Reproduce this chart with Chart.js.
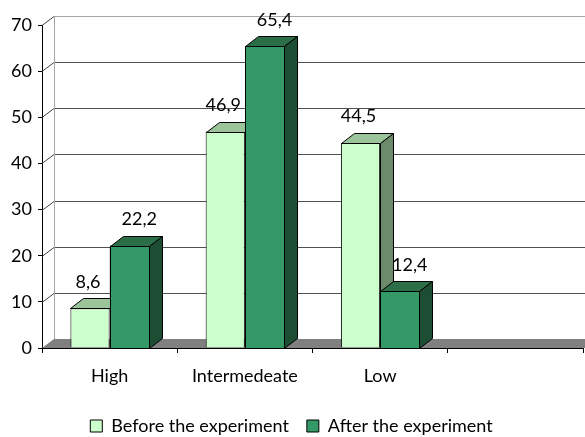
<!DOCTYPE html>
<html>
<head>
<meta charset="utf-8">
<script src="https://cdn.jsdelivr.net/npm/chart.js@4/dist/chart.umd.min.js"></script>
<style>
  html, body { margin: 0; padding: 0; background: #fff; overflow: hidden; }
  #wrap { width: 585px; height: 445px; }
</style>
</head>
<body>
<div id="wrap"><canvas id="levelChart" width="585" height="445"></canvas></div>
<script>
const categories = ['High', 'Intermedeate', 'Low', ''];
const beforeValues = [8.6, 46.9, 44.5];
const afterValues = [22.2, 65.4, 12.4];
const seriesNames = ['Before the experiment', 'After the experiment'];
const yTicks = [0, 10, 20, 30, 40, 50, 60, 70];

// face colours: front, top, side
const faceColors = [
  ['#ccffcc', '#9bc49b', '#6b8b6b'],
  ['#339966', '#2b6e47', '#1d4d33']
];
const DEPTH_X = 13, DEPTH_Y = -10;
const WALL_X = 12, WALL_Y = -9;

Chart.defaults.font.family = 'Lato, "Open Sans", sans-serif';
Chart.defaults.font.size = 18;
Chart.defaults.color = '#000';

const wallPlugin = {
  id: 'wall',
  beforeDatasetsDraw(chart) {
    const ctx = chart.ctx;
    const area = chart.chartArea;
    const y = chart.scales.y;
    const y0 = y.getPixelForValue(0);
    ctx.save();
    // floor
    ctx.fillStyle = '#808080';
    ctx.beginPath();
    ctx.moveTo(area.left, y0);
    ctx.lineTo(area.right + 4, y0);
    ctx.lineTo(area.right + 4 + WALL_X, y0 + WALL_Y);
    ctx.lineTo(area.left + WALL_X, y0 + WALL_Y);
    ctx.closePath();
    ctx.fill();
    // gridlines on back wall
    ctx.lineWidth = 1;
    yTicks.forEach(function (v) {
      if (v === 0) return;
      const py = Math.round(y.getPixelForValue(v)) + 0.5;
      ctx.strokeStyle = v === 70 ? '#a6a6a6' : '#505050';
      ctx.beginPath();
      ctx.moveTo(area.left + WALL_X, py + WALL_Y);
      ctx.lineTo(area.right + 20, py + WALL_Y);
      ctx.stroke();
      ctx.strokeStyle = '#404040';
      ctx.beginPath();
      ctx.moveTo(area.left, py);
      ctx.lineTo(area.left + WALL_X, py + WALL_Y);
      ctx.stroke();
    });
    // wall edge
    ctx.strokeStyle = '#a6a6a6';
    ctx.beginPath();
    ctx.moveTo(area.left + WALL_X + 0.5, y.getPixelForValue(70) + WALL_Y);
    ctx.lineTo(area.left + WALL_X + 0.5, y0 + WALL_Y);
    ctx.stroke();
    ctx.restore();
  }
};

function drawBox(ctx, bar, cols, withFront) {
  const left = Math.round(bar.x - bar.width / 2) + 0.5;
  const right = Math.round(bar.x + bar.width / 2) + 0.5;
  const top = Math.round(bar.y) + 0.5;
  const bottom = Math.round(bar.base) + 0.5;
  if (withFront) {
    ctx.fillStyle = cols[0];
    ctx.fillRect(left, top, right - left, bottom - top);
    ctx.strokeRect(left, top, right - left, bottom - top);
  }
  // top face
  ctx.fillStyle = cols[1];
  ctx.beginPath();
  ctx.moveTo(left, top);
  ctx.lineTo(left + DEPTH_X, top + DEPTH_Y);
  ctx.lineTo(right + DEPTH_X, top + DEPTH_Y);
  ctx.lineTo(right, top);
  ctx.closePath();
  ctx.fill();
  ctx.stroke();
  // side face
  ctx.fillStyle = cols[2];
  ctx.beginPath();
  ctx.moveTo(right, top);
  ctx.lineTo(right + DEPTH_X, top + DEPTH_Y);
  ctx.lineTo(right + DEPTH_X, bottom + DEPTH_Y);
  ctx.lineTo(right, bottom);
  ctx.closePath();
  ctx.fill();
  ctx.stroke();
}

const depthPlugin = {
  id: 'depth',
  afterDatasetsDraw(chart) {
    const ctx = chart.ctx;
    ctx.save();
    ctx.lineWidth = 1;
    ctx.strokeStyle = '#000';
    // series 0 first, then series 1 repainted in front of it
    chart.data.datasets.forEach(function (ds, i) {
      chart.getDatasetMeta(i).data.forEach(function (bar) {
        drawBox(ctx, bar, faceColors[i], i > 0);
      });
    });
    ctx.font = '18px Lato, "Open Sans", sans-serif';
    ctx.fillStyle = '#000';
    ctx.textAlign = 'center';
    ctx.textBaseline = 'middle';
    chart.data.datasets.forEach(function (ds, i) {
      chart.getDatasetMeta(i).data.forEach(function (bar, j) {
        const dx = i === 0 ? -2 : 10;
        ctx.fillText(String(ds.data[j]).replace('.', ','), bar.x + dx, bar.y - 26);
      });
    });
    ctx.restore();
  }
};

new Chart(document.getElementById('levelChart'), {
  type: 'bar',
  data: {
    labels: categories,
    datasets: [{
      label: seriesNames[0],
      data: beforeValues,
      backgroundColor: faceColors[0][0],
      borderColor: '#000',
      borderWidth: 1
    },
    {
      label: seriesNames[1],
      data: afterValues,
      backgroundColor: faceColors[1][0],
      borderColor: '#000',
      borderWidth: 1
    }]
  },
  options: {
    responsive: false,
    animation: false,
    devicePixelRatio: 1,
    layout: {
      padding: { top: 25, right: 2, left: 0, bottom: 0 }
    },
    datasets: {
      bar: {
        categoryPercentage: 0.58,
        barPercentage: 1
      }
    },
    plugins: {
      legend: {
        position: 'bottom',
        labels: {
          boxWidth: 12,
          boxHeight: 12,
          padding: 18,
          font: { size: 18 }
        }
      },
      tooltip: { enabled: false }
    },
    scales: {
      x: {
        grid: {
          offset: true,
          drawOnChartArea: false,
          tickLength: 5,
          color: '#000'
        },
        border: { color: '#000' },
        ticks: { padding: 12 },
        afterFit: function (scale) { scale.height = 51; }
      },
      y: {
        min: 0,
        max: 70,
        grid: {
          drawOnChartArea: false,
          tickLength: 4,
          color: '#000'
        },
        border: { color: '#000' },
        ticks: { stepSize: 10, padding: 6 },
        afterFit: function (scale) { scale.width = 42; }
      }
    }
  },
  plugins: [wallPlugin, depthPlugin]
});
</script>
</body>
</html>
